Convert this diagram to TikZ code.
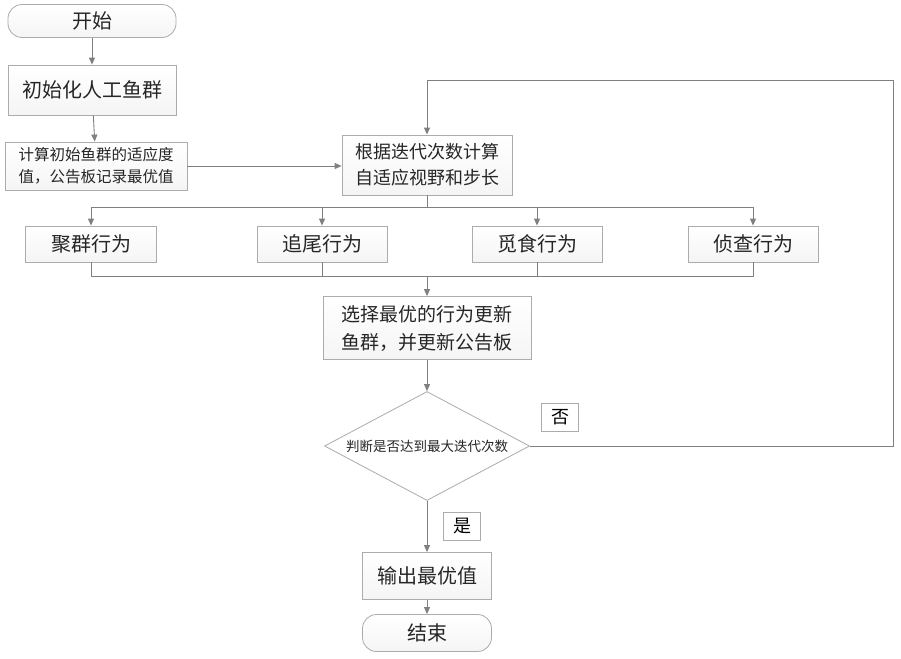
\documentclass[tikz,border=0pt]{standalone}
\usepackage{fontspec}
\setmainfont{Noto Sans CJK SC}
\usetikzlibrary{arrows.meta,shapes.geometric}

\begin{document}
\begin{tikzpicture}[x=1pt, y=-1pt,
    box/.style = {draw=gray!65, line width=.8pt, top color=white, bottom color=gray!8,
                  inner sep=0pt, align=center, text=black!85},
    term/.style = {box, rounded corners=14pt},
    tag/.style = {draw=gray!65, line width=.8pt, fill=white, inner sep=0pt,
                  minimum width=37pt, minimum height=28pt, font=\fontsize{18}{20}\selectfont},
    arr/.style = {draw=gray, line width=.9pt, -{Triangle[length=7pt, width=6pt]}},
    ln/.style = {draw=gray, line width=.9pt}]
      \useasboundingbox (0, 0) rectangle (901, 658);
      \fill[white] (0, 0) rectangle (901, 658);
      % left column
      \node [term, minimum width=168pt, minimum height=33pt, font=\fontsize{20}{24}\selectfont] (start) at (92, 21) {开始};
      \node [box, minimum width=168pt, minimum height=50pt, font=\fontsize{20}{24}\selectfont] (init) at (92, 90) {初始化人工鱼群};
      \node [box, minimum width=182pt, minimum height=48pt, font=\fontsize{15.5}{22}\selectfont] (fit) at (96, 166) {计算初始鱼群的适应度\\值，公告板记录最优值};
      % adaptive step
      \node [box, minimum width=170pt, minimum height=60pt, font=\fontsize{18}{26}\selectfont] (adapt) at (427, 165) {根据迭代次数计算\\自适应视野和步长};
      % behaviours
      \node [box, minimum width=131pt, minimum height=36pt, font=\fontsize{20}{24}\selectfont] (swarm) at (91, 244) {聚群行为};
      \node [box, minimum width=130pt, minimum height=36pt, font=\fontsize{20}{24}\selectfont] (follow) at (322, 244) {追尾行为};
      \node [box, minimum width=130pt, minimum height=36pt, font=\fontsize{20}{24}\selectfont] (prey) at (537, 244) {觅食行为};
      \node [box, minimum width=130pt, minimum height=36pt, font=\fontsize{20}{24}\selectfont] (scout) at (753, 244) {侦查行为};
      \node [box, minimum width=208pt, minimum height=63pt, font=\fontsize{19}{28}\selectfont] (best) at (427, 328) {选择最优的行为更新\\鱼群，并更新公告板};
      \node [diamond, shape aspect=1.9, draw=gray!65, line width=.8pt, fill=white, inner sep=0pt, minimum width=205pt, minimum height=109pt,
             font=\fontsize{13.5}{16}\selectfont, text=black!85] (check) at (427, 446) {判断是否达到最大迭代次数};
      \node [box, minimum width=129pt, minimum height=47pt, font=\fontsize{20}{24}\selectfont] (out) at (427, 576) {输出最优值};
      \node [term, minimum width=129pt, minimum height=37pt, font=\fontsize{20}{24}\selectfont] (stop) at (427, 633) {结束};
      \node [tag] (no) at (560, 417) {否};
      \node [tag] (yes) at (462, 526) {是};
      % connectors
      \draw[arr] (start) -- (init);
      \draw[arr] (init) -- (fit);
      \draw[arr] (fit.east |- 0, 166) -- (adapt.west |- 0, 166);
      \coordinate (split) at (427, 207);
      \coordinate (merge) at (427, 276);
      \draw[ln] (adapt.south) -- (split);
      \draw[arr] (split) -| (swarm.north);
      \draw[arr] (split) -| (follow.north);
      \draw[arr] (split) -| (prey.north);
      \draw[arr] (split) -| (scout.north);
      \draw[ln] (swarm.south) |- (merge);
      \draw[ln] (follow.south) |- (merge);
      \draw[ln] (prey.south) |- (merge);
      \draw[ln] (scout.south) |- (merge);
      \draw[arr] (merge) -- (best.north);
      \draw[arr] (best) -- (check);
      \coordinate (back) at (893, 80);
      \draw[arr] (check.east) -| (back) -| (adapt.north);
      \draw[arr] (check) -- (out);
      \draw[arr] (out) -- (stop);
    \end{tikzpicture}
\end{document}
